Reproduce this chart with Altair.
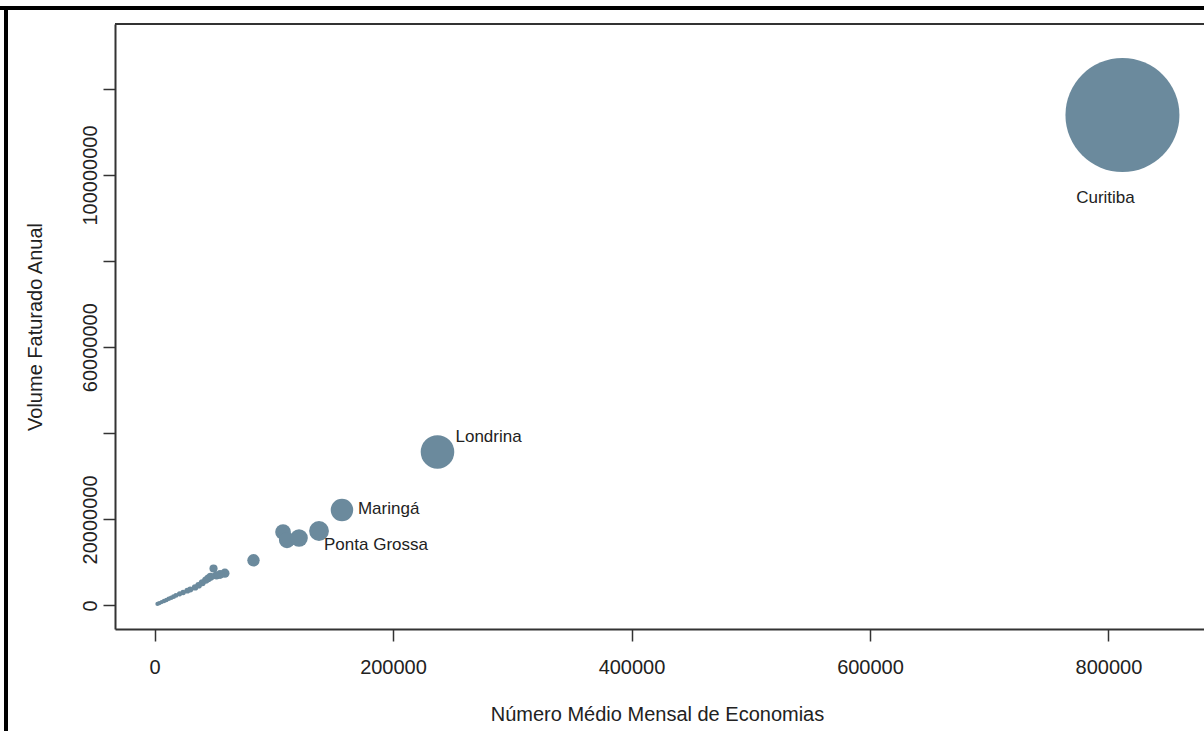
import altair as alt
import pandas as pd

# Municipalities: mean monthly number of connections vs. annual billed volume
municipio = [
    "Curitiba", "Londrina", "Maringá", "Ponta Grossa",
    "", "", "", "", "", "", "", "", "", "", "", "", "", "", "", "",
    "", "", "", "", "", "", "", "", "", "", "",
]
economias = [
    811700, 237300, 157200, 137950,
    107800, 111100, 121200, 83000, 59000, 55000, 52000, 49500, 47000, 45000,
    43000, 40000, 37000, 34000, 30000, 27500, 24000, 21000, 18000, 16000,
    14000, 12000, 10000, 8000, 6000, 4000, 2500,
]
volume = [
    113940000, 35660000, 22180000, 17300000,
    17070000, 15200000, 15680000, 10500000, 7500000, 7200000, 7000000, 8600000,
    6700000, 6300000, 5900000, 5300000, 4700000, 4200000, 3700000, 3450000,
    3000000, 2700000, 2350000, 2050000, 1800000, 1550000, 1300000, 1050000,
    800000, 550000, 350000,
]

x_ticks = [0, 200000, 400000, 600000, 800000]
y_ticks = [0, 20000000, 40000000, 60000000, 80000000, 100000000, 120000000]
y_labelled = [0, 20000000, 60000000, 100000000]

df = pd.DataFrame({"municipio": municipio, "economias": economias, "volume": volume})

W, H = 1089, 605
FONT = "Liberation Sans"
INK = "#222222"
LINE = "#333333"
POINT = "#6B8A9D"

x_scale = alt.Scale(domain=[-33124, 880084], nice=False, zero=False)
y_scale = alt.Scale(domain=[-5459000, 135070000], nice=False, zero=False)

label_expr = " || ".join(f"datum.value == {v}" for v in y_labelled)

x_enc = alt.X(
    "economias:Q",
    scale=x_scale,
    axis=alt.Axis(
        values=x_ticks, format="d", grid=False,
        tickSize=12, tickWidth=1.5, tickColor=LINE,
        domainColor=LINE, domainWidth=2,
        labelFont=FONT, labelFontSize=20, labelColor=INK, labelPadding=16,
        title="Número Médio Mensal de Economias",
        titleFont=FONT, titleFontSize=20, titleFontWeight="normal", titleColor=INK,
        titleX=542, titleY=85, titleAlign="center", titleBaseline="middle",
    ),
)
y_enc = alt.Y(
    "volume:Q",
    scale=y_scale,
    axis=alt.Axis(
        values=y_ticks, format="d", grid=False,
        labelExpr=f"({label_expr}) ? datum.label : ''",
        tickSize=12, tickWidth=1.5, tickColor=LINE,
        domainColor=LINE, domainWidth=2,
        labelFont=FONT, labelFontSize=20, labelColor=INK, labelPadding=3,
        labelAngle=-90, labelAlign="center", labelBaseline="bottom",
        title="Volume Faturado Anual",
        titleFont=FONT, titleFontSize=20, titleFontWeight="normal", titleColor=INK,
        titleX=-80, titleY=H / 2, titleAngle=-90, titleAlign="center", titleBaseline="middle",
    ),
)

base = alt.Chart(df)

# bubble radius grows linearly with the number of connections
# (Vega circle size = diameter squared)
bubbles = base.mark_circle(color=POINT, opacity=1).encode(
    x=x_enc,
    y=y_enc,
    size=alt.Size(
        "economias:Q",
        scale=alt.Scale(type="pow", exponent=2, domain=[0, 811700], range=[18, 12996]),
        legend=None,
    ),
)

# City names, each with its own placement around the bubble
label_style = {
    "Curitiba": dict(dx=-17, dy=83, align="center"),
    "Londrina": dict(dx=18, dy=-15, align="left"),
    "Maringá": dict(dx=16, dy=-1, align="left"),
    "Ponta Grossa": dict(dx=5, dy=14, align="left"),
}
labels = [
    base.transform_filter(alt.datum.municipio == name)
    .mark_text(font=FONT, fontSize=17, color=INK, baseline="middle", **style)
    .encode(x=alt.X("economias:Q", scale=x_scale), y=alt.Y("volume:Q", scale=y_scale), text="municipio:N")
    for name, style in label_style.items()
]

# top edge of the plot box
box_top = alt.Chart(df).mark_rule(color=LINE, strokeWidth=2).encode(
    x=alt.value(0), x2=alt.value(W), y=alt.value(0)
)

# outer frame around the figure
frame_top = alt.Chart(df).mark_rule(color="#000000", strokeWidth=2.5).encode(
    x=alt.value(-115), x2=alt.value(W), y=alt.value(-16)
)
frame_left = alt.Chart(df).mark_rule(color="#000000", strokeWidth=2.5).encode(
    x=alt.value(-109), y=alt.value(-17), y2=alt.value(H + 110)
)

chart = alt.layer(bubbles, *labels, box_top, frame_top, frame_left).properties(
    width=W,
    height=H,
    autosize=alt.AutoSizeParams(type="none"),
    padding={"left": 115, "top": 24, "right": 0, "bottom": 102},
    background="white",
).configure_view(stroke=None)

chart.save("out.html", embed_options={"renderer": "svg", "actions": False})
